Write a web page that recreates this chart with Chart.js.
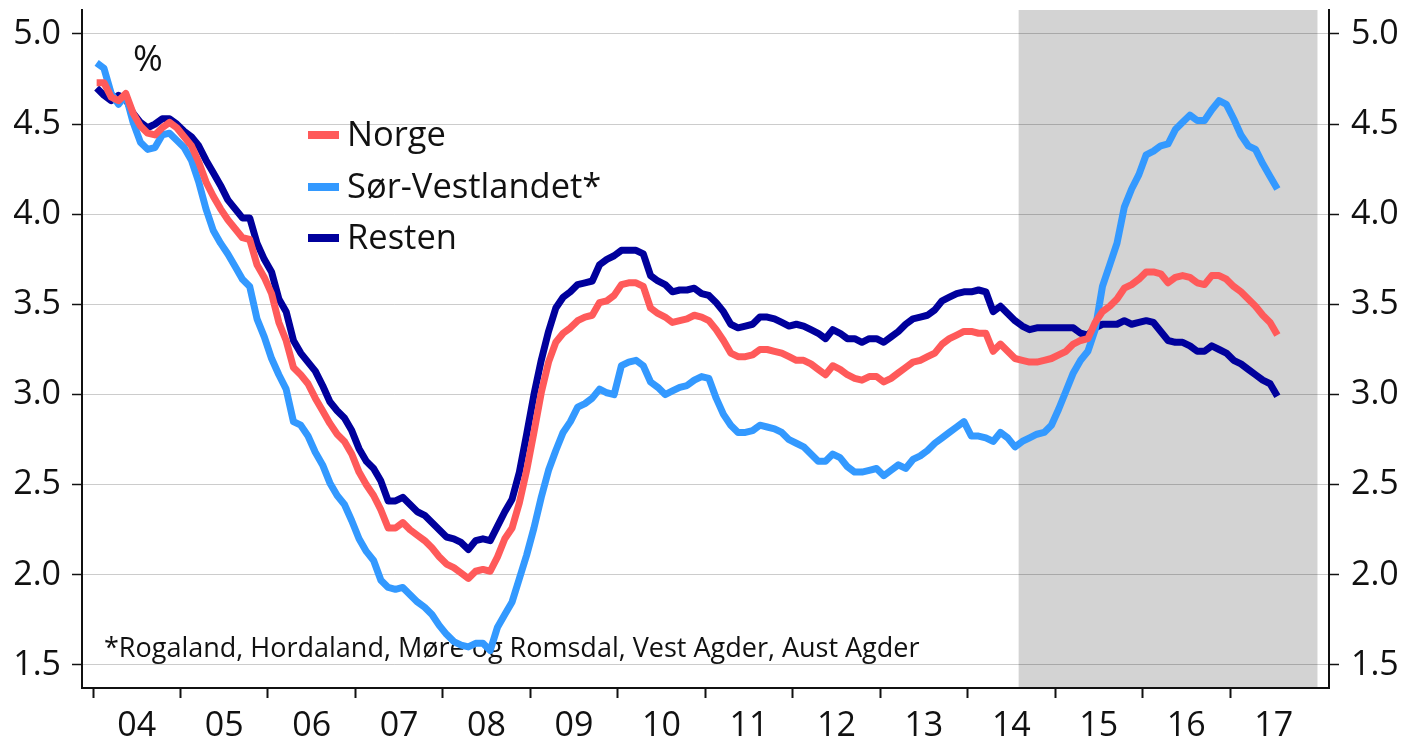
<!DOCTYPE html>
<html><head><meta charset="utf-8">
<script src="https://cdn.jsdelivr.net/npm/chart.js@4.4.1/dist/chart.umd.min.js"></script>
<style>html,body{margin:0;padding:0;background:#fff;}#wrap{width:1405px;height:741px;position:relative;}</style>
</head><body><div id="wrap"><canvas id="c" width="1405" height="741"></canvas></div>
<script>
// ---- data ----
const startYear = 2004;
const monthCount = 163; // Jan 2004 .. Jul 2017
const months = [];
for (let i = 0; i < monthCount; i++) {
  months.push((startYear + Math.floor(i / 12)) + '-' + String(i % 12 + 1).padStart(2, '0'));
}
const norge = [
4.73,4.73,4.65,4.63,4.67,4.56,4.49,4.45,4.44,4.48,4.51,4.48,
4.43,4.38,4.29,4.18,4.10,4.03,3.97,3.92,3.87,3.86,3.72,3.65,
3.56,3.40,3.30,3.15,3.11,3.06,2.98,2.91,2.84,2.78,2.74,2.67,
2.57,2.50,2.44,2.36,2.26,2.26,2.29,2.25,2.22,2.19,2.15,2.10,
2.06,2.04,2.01,1.98,2.02,2.03,2.02,2.10,2.20,2.26,2.40,2.58,
2.79,3.01,3.18,3.29,3.34,3.37,3.41,3.43,3.44,3.51,3.52,3.55,
3.61,3.62,3.62,3.60,3.48,3.45,3.43,3.40,3.41,3.42,3.44,3.43,
3.41,3.36,3.30,3.23,3.21,3.21,3.22,3.25,3.25,3.24,3.23,3.21,
3.19,3.19,3.17,3.14,3.11,3.16,3.14,3.11,3.09,3.08,3.10,3.10,
3.07,3.09,3.12,3.15,3.18,3.19,3.21,3.23,3.28,3.31,3.33,3.35,
3.35,3.34,3.34,3.24,3.28,3.24,3.20,3.19,3.18,3.18,3.19,3.20,
3.22,3.24,3.28,3.30,3.31,3.40,3.46,3.49,3.53,3.59,3.61,3.64,
3.68,3.68,3.67,3.62,3.65,3.66,3.65,3.62,3.61,3.66,3.66,3.64,
3.60,3.57,3.53,3.49,3.44,3.40,3.33];
const sorVestlandet = [
4.84,4.81,4.67,4.61,4.66,4.51,4.40,4.36,4.37,4.44,4.45,4.41,
4.37,4.30,4.18,4.03,3.91,3.84,3.78,3.71,3.64,3.60,3.42,3.32,
3.20,3.11,3.03,2.85,2.83,2.77,2.68,2.61,2.51,2.44,2.39,2.30,
2.20,2.13,2.08,1.97,1.93,1.92,1.93,1.89,1.85,1.82,1.78,1.72,
1.67,1.63,1.61,1.60,1.62,1.62,1.58,1.71,1.78,1.85,1.98,2.11,
2.26,2.43,2.58,2.69,2.79,2.85,2.93,2.95,2.98,3.03,3.01,3.00,
3.16,3.18,3.19,3.16,3.07,3.04,3.00,3.02,3.04,3.05,3.08,3.10,
3.09,2.98,2.89,2.83,2.79,2.79,2.80,2.83,2.82,2.81,2.79,2.75,
2.73,2.71,2.67,2.63,2.63,2.67,2.65,2.60,2.57,2.57,2.58,2.59,
2.55,2.58,2.61,2.59,2.64,2.66,2.69,2.73,2.76,2.79,2.82,2.85,
2.77,2.77,2.76,2.74,2.79,2.76,2.71,2.74,2.76,2.78,2.79,2.83,
2.92,3.02,3.12,3.19,3.24,3.36,3.60,3.72,3.84,4.04,4.14,4.22,
4.33,4.35,4.38,4.39,4.47,4.51,4.55,4.52,4.52,4.58,4.63,4.61,
4.53,4.44,4.38,4.36,4.28,4.21,4.14];
const resten = [
4.70,4.66,4.63,4.66,4.64,4.56,4.51,4.48,4.50,4.53,4.53,4.50,
4.46,4.43,4.38,4.30,4.23,4.16,4.08,4.03,3.98,3.98,3.84,3.75,
3.68,3.53,3.46,3.30,3.23,3.18,3.13,3.05,2.96,2.91,2.87,2.80,
2.70,2.63,2.59,2.52,2.41,2.41,2.43,2.39,2.35,2.33,2.29,2.25,
2.21,2.20,2.18,2.14,2.19,2.20,2.19,2.27,2.35,2.42,2.57,2.78,
3.00,3.19,3.35,3.48,3.54,3.57,3.61,3.62,3.63,3.72,3.75,3.77,
3.80,3.80,3.80,3.78,3.66,3.63,3.61,3.57,3.58,3.58,3.59,3.56,
3.55,3.51,3.46,3.39,3.37,3.38,3.39,3.43,3.43,3.42,3.40,3.38,
3.39,3.38,3.36,3.34,3.31,3.36,3.34,3.31,3.31,3.29,3.31,3.31,
3.29,3.32,3.35,3.39,3.42,3.43,3.44,3.47,3.52,3.54,3.56,3.57,
3.57,3.58,3.57,3.46,3.49,3.45,3.41,3.38,3.36,3.37,3.37,3.37,
3.37,3.37,3.37,3.34,3.33,3.37,3.39,3.39,3.39,3.41,3.39,3.40,
3.41,3.40,3.35,3.30,3.29,3.29,3.27,3.24,3.24,3.27,3.25,3.23,
3.19,3.17,3.14,3.11,3.08,3.06,2.99];
const seriesNames = ['Norge', 'Sør-Vestlandet*', 'Resten'];
const yearTicks = [2004,2005,2006,2007,2008,2009,2010,2011,2012,2013,2014,2015,2016,2017];
const yTickValues = [1.5,2.0,2.5,3.0,3.5,4.0,4.5,5.0];
const shadeFromMonth = '2014-08';
const shadeToMonth = '2018-01';
const unitLabel = '%';
const footnote = '*Rogaland, Hordaland, Møre og Romsdal, Vest Agder, Aust Agder';

// ---- helpers ----
function monthStart(label) { const [y, m] = label.split('-').map(Number); return y + (m - 1) / 12; }
function monthMid(label) { return monthStart(label) + 0.5 / 12; }
function toPoints(arr) { return arr.map((v, i) => ({ x: monthMid(months[i]), y: v })); }

const colors = ['#ff5a5a', '#3399ff', '#00009c'];
const FONT = "'Open Sans', 'Noto Sans', sans-serif";
const TEXT = '#111';

const shadePlugin = {
  id: 'shade',
  beforeDraw(chart) {
    const { ctx, chartArea, scales } = chart;
    const x0 = scales.x.getPixelForValue(monthStart(shadeFromMonth));
    const x1 = scales.x.getPixelForValue(monthStart(shadeToMonth));
    ctx.save();
    ctx.fillStyle = 'rgb(211,211,211)';
    ctx.fillRect(x0, chartArea.top, x1 - x0, chartArea.bottom - chartArea.top);
    ctx.restore();
  },
  beforeDatasetsDraw(chart) {
    const { ctx } = chart;
    ctx.save();
    ctx.fillStyle = TEXT;
    ctx.font = '27px ' + FONT;
    ctx.textBaseline = 'alphabetic';
    ctx.textAlign = 'left';
    ctx.fillText(footnote, 104, 657);
    ctx.font = '36px ' + FONT;
    ctx.textAlign = 'center';
    ctx.textBaseline = 'middle';
    ctx.fillText(unitLabel, 148, 61);
    ctx.restore();
  },
  afterDraw(chart) {
    const { ctx } = chart;
    ctx.save();
    const rows = [135, 187, 238];
    chart.data.datasets.forEach((ds, i) => {
      ctx.strokeStyle = ds.borderColor;
      ctx.lineWidth = 8;
      ctx.beginPath();
      ctx.moveTo(308, rows[i]);
      ctx.lineTo(339, rows[i]);
      ctx.stroke();
      ctx.fillStyle = TEXT;
      ctx.font = '34.5px ' + FONT;
      ctx.textAlign = 'left';
      ctx.textBaseline = 'middle';
      ctx.fillText(ds.label, 347, rows[i] + 1);
    });
    ctx.restore();
  }
};

const yMin = 1.3724, yMax = 5.1331;
function noPad(s) { s.paddingTop = 0; s.paddingBottom = 0; s.paddingLeft = 0; s.paddingRight = 0; }
const commonY = {
  type: 'linear', min: yMin, max: yMax,
  afterBuildTicks: s => { s.ticks = yTickValues.map(v => ({ value: v })); },
  border: { display: true, color: TEXT, width: 2 },
  ticks: { callback: v => v.toFixed(1), color: TEXT, font: { size: 34, family: FONT } }
};

new Chart(document.getElementById('c'), {
  type: 'line',
  data: {
    datasets: [norge, sorVestlandet, resten].map((arr, i) => ({
      label: seriesNames[i],
      data: toPoints(arr),
      borderColor: colors[i],
      backgroundColor: colors[i],
      borderWidth: 7,
      pointRadius: 0,
      tension: 0,
      fill: false,
      borderJoinStyle: 'round',
      borderCapStyle: 'butt'
    }))
  },
  options: {
    responsive: false,
    animation: false,
    devicePixelRatio: 1,
    layout: { padding: { top: 10, left: 0, right: 0, bottom: 0 } },
    plugins: { legend: { display: false }, tooltip: { enabled: false } },
    scales: {
      x: {
        type: 'linear', min: 2003.8742, max: 2018.1319,
        afterBuildTicks: s => { s.ticks = yearTicks.map(v => ({ value: v })); },
        afterFit: s => { s.height = 53; noPad(s); },
        border: { display: true, color: TEXT, width: 2 },
        grid: { drawOnChartArea: false, drawTicks: true, tickLength: 10, tickColor: TEXT, tickWidth: 2 },
        ticks: {
          callback: v => String(v).slice(2), color: TEXT, labelOffset: 43.7, padding: 8,
          maxRotation: 0, autoSkip: false, font: { size: 34, family: FONT }
        }
      },
      y: Object.assign({}, commonY, {
        position: 'left',
        afterFit: s => { s.width = 82; noPad(s); },
        grid: { color: 'rgba(0,0,0,0.2)', lineWidth: 1, drawTicks: true, tickLength: 10, tickColor: TEXT, tickWidth: 1.5 },
        ticks: Object.assign({}, commonY.ticks, { padding: 11 })
      }),
      y2: Object.assign({}, commonY, {
        position: 'right',
        afterFit: s => { s.width = 76; noPad(s); },
        grid: { drawOnChartArea: false, drawTicks: true, tickLength: 10, tickColor: TEXT, tickWidth: 1.5 },
        ticks: Object.assign({}, commonY.ticks, { padding: 12 })
      })
    }
  },
  plugins: [shadePlugin]
});
</script></body></html>
